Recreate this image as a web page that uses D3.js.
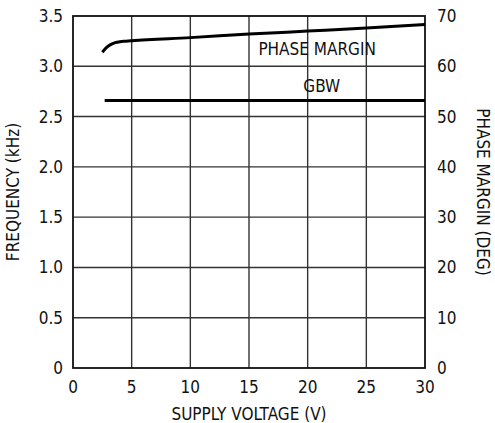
<!DOCTYPE html>
<html>
<head>
<script src="https://d3js.org/d3.v7.min.js"></script>
<style>
body { margin: 0; background: #fff; }
text { font-family: 'Liberation Sans Narrow', 'DejaVu Sans Condensed', 'Liberation Sans', sans-serif; fill: #111; }
</style>
</head>
<body>
<svg id="svg"></svg>
<script>
// values
const voltageTicks = [0, 5, 10, 15, 20, 25, 30];
const freqTicks = [0, 0.5, 1.0, 1.5, 2.0, 2.5, 3.0, 3.5];
const phaseTicks = [0, 10, 20, 30, 40, 50, 60, 70];

const pmVolts = [2.5, 2.8, 3.2, 3.6, 4.0, 4.5, 5, 10, 15, 20, 25, 30];
const pmDeg = [62.8, 63.6, 64.3, 64.7, 64.9, 65.0, 65.1, 65.7, 66.4, 67.0, 67.6, 68.3];

const gbwVolts = [2.7, 30];
const gbwKHz = [2.66, 2.66];

const width = 495, height = 423;
const m = { left: 73, right: 70, top: 16, bottom: 55 };

const svg = d3.select("#svg").attr("width", width).attr("height", height);

const x = d3.scaleLinear().domain([0, 30]).range([m.left, width - m.right]);
const yL = d3.scaleLinear().domain([0, 3.5]).range([height - m.bottom, m.top]);
const yR = d3.scaleLinear().domain([0, 70]).range([height - m.bottom, m.top]);

const x0 = x(0), x1 = x(30), y0 = yL(0), y1 = yL(3.5);

// grid
svg.append("g").selectAll("line").data(voltageTicks.slice(1, -1)).join("line")
  .attr("x1", d => x(d)).attr("x2", d => x(d))
  .attr("y1", y0).attr("y2", y1)
  .attr("stroke", "#333").attr("stroke-width", 1.4);
svg.append("g").selectAll("line").data(freqTicks.slice(1, -1)).join("line")
  .attr("x1", x0).attr("x2", x1)
  .attr("y1", d => yL(d)).attr("y2", d => yL(d))
  .attr("stroke", "#333").attr("stroke-width", 1.4);

svg.append("rect")
  .attr("x", x0).attr("y", y1)
  .attr("width", x1 - x0).attr("height", y0 - y1)
  .attr("fill", "none").attr("stroke", "#111").attr("stroke-width", 1.8);

// tick labels
const fs = 17;
svg.append("g").selectAll("text").data(voltageTicks).join("text")
  .attr("x", d => x(d)).attr("y", y0 + 25)
  .attr("text-anchor", "middle").attr("font-size", fs)
  .text(d => d);
svg.append("g").selectAll("text").data(freqTicks).join("text")
  .attr("x", x0 - 10).attr("y", d => yL(d) + 6)
  .attr("text-anchor", "end").attr("font-size", fs)
  .text(d => d === 0 ? "0" : d.toFixed(1));
svg.append("g").selectAll("text").data(phaseTicks).join("text")
  .attr("x", x1 + 12).attr("y", d => yR(d) + 6)
  .attr("text-anchor", "start").attr("font-size", fs)
  .text(d => d);

// axis titles
svg.append("text").attr("x", (x0 + x1) / 2).attr("y", 420)
  .attr("text-anchor", "middle").attr("font-size", fs).text("SUPPLY VOLTAGE (V)");
svg.append("text")
  .attr("transform", `translate(19,${(y0 + y1) / 2}) rotate(-90)`)
  .attr("text-anchor", "middle").attr("font-size", fs).text("FREQUENCY (kHz)");
svg.append("text")
  .attr("transform", `translate(477,${(y0 + y1) / 2}) rotate(90)`)
  .attr("text-anchor", "middle").attr("font-size", fs).text("PHASE MARGIN (DEG)");

// curve labels
svg.append("text").attr("x", x(15.8)).attr("y", yR(62.3))
  .attr("font-size", fs).text("PHASE MARGIN");
svg.append("text").attr("x", x(21.2)).attr("y", yR(54.8))
  .attr("text-anchor", "middle").attr("font-size", fs).text("GBW");

// curves
const pmLine = d3.line().x(d => x(d[0])).y(d => yR(d[1])).curve(d3.curveMonotoneX);
svg.append("path").datum(d3.zip(pmVolts, pmDeg))
  .attr("d", pmLine).attr("fill", "none")
  .attr("stroke", "#000").attr("stroke-width", 3);

const gbwLine = d3.line().x(d => x(d[0])).y(d => yL(d[1]));
svg.append("path").datum(d3.zip(gbwVolts, gbwKHz))
  .attr("d", gbwLine).attr("fill", "none")
  .attr("stroke", "#000").attr("stroke-width", 3);
</script>
</body>
</html>
